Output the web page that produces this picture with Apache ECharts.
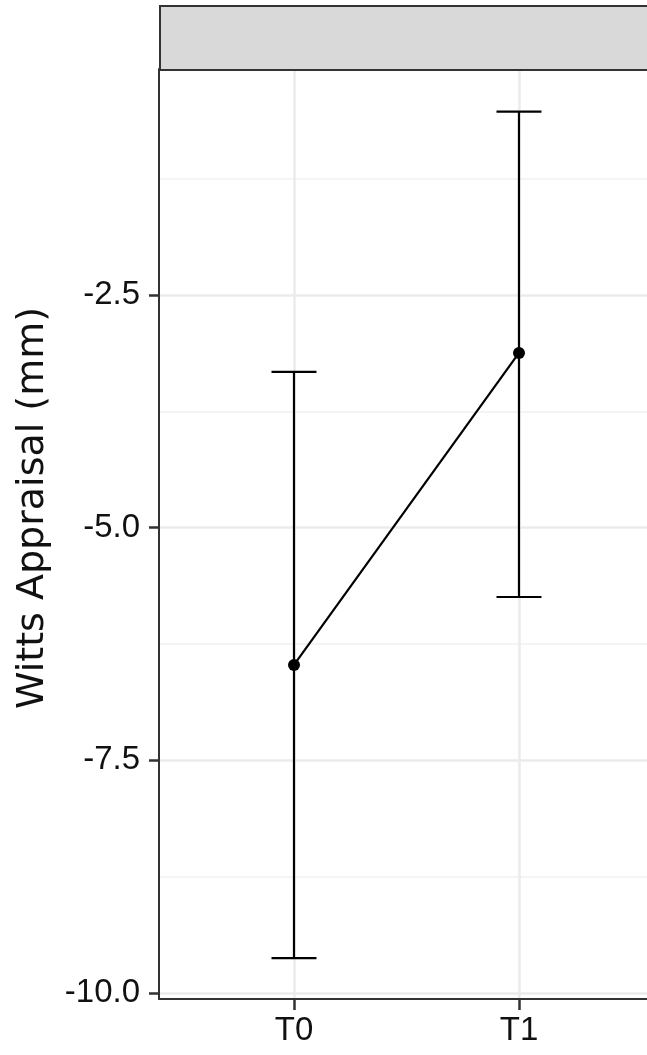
<!DOCTYPE html>
<html>
<head>
<meta charset="utf-8">
<script src="https://cdn.jsdelivr.net/npm/echarts@6/dist/echarts.min.js"></script>
<style>
html,body{margin:0;padding:0;background:#fff;}
#chart{width:647px;height:1055px;}
</style>
</head>
<body>
<div id="chart"></div>
<script>
const categories = ['T0', 'T1'];
const means = [-6.475, -3.123];
const lowerCI = [-9.624, -5.745];
const upperCI = [-3.327, -0.53];
const yTicks = [-10, -7.5, -5, -2.5];
const yMinorTicks = [-8.75, -6.25, -3.75, -1.25];
const yTitle = 'Witts Appraisal (mm)';

const xMin = -0.6, xMax = 1.569;
const yMin = -10.064, yMax = -0.072;

const pointData = categories.map((c, i) => [i, means[i]]);
const errData = categories.map((c, i) => [i, lowerCI[i], upperCI[i]]);

const chart = echarts.init(document.getElementById('chart'), null, {renderer: 'canvas'});

const option = {
  animation: false,
  backgroundColor: '#ffffff',
  grid: {left: 159, top: 69, right: 0, height: 930, containLabel: false},
  xAxis: {
    type: 'value', min: xMin, max: xMax,
    axisLine: {show: true, onZero: false, lineStyle: {color: '#333333', width: 2}},
    axisTick: {show: true, customValues: [0, 1], length: 11, lineStyle: {color: '#333333', width: 2.5}},
    axisLabel: {customValues: [0, 1], formatter: v => categories[Math.round(v)], fontSize: 33,
      fontFamily: 'Liberation Sans, Arial, sans-serif', color: '#111111', margin: 15},
    splitLine: {show: true, lineStyle: {color: '#EBEBEB', width: 2.5}}
  },
  yAxis: [{
    type: 'value', min: yMin, max: yMax,
    axisLine: {show: true, onZero: false, lineStyle: {color: '#333333', width: 2}},
    axisTick: {show: true, customValues: yTicks, length: 10, lineStyle: {color: '#333333', width: 2.5}},
    axisLabel: {customValues: yTicks, formatter: v => Number(v).toFixed(1), fontSize: 33,
      fontFamily: 'Liberation Sans, Arial, sans-serif', color: '#111111', margin: 19},
    splitLine: {show: true, lineStyle: {color: '#EBEBEB', width: 2.5}}
  }, {
    type: 'value', min: yMin, max: yMax, position: 'left',
    axisLine: {show: false},
    axisTick: {show: false, customValues: yMinorTicks},
    axisLabel: {show: false, customValues: yMinorTicks},
    splitLine: {show: true, lineStyle: {color: '#F0F0F0', width: 1.5}},
    z: 0
  }],
  graphic: [
    {type: 'rect', left: 159, top: 5, shape: {x: 0, y: 0, width: 510, height: 64},
     style: {fill: '#D9D9D9', stroke: '#333333', lineWidth: 2}, z: 10},
    {type: 'text', x: 33, y: 508, rotation: Math.PI / 2,
     style: {text: yTitle, fontSize: 38, fontFamily: 'DejaVu Sans', fill: '#111111',
       textAlign: 'center', textVerticalAlign: 'middle'}}
  ],
  series: [
    {
      type: 'custom',
      xAxisIndex: 0, yAxisIndex: 0,
      data: errData,
      renderItem: function (params, api) {
        const x = api.value(0);
        const lo = api.value(1), hi = api.value(2);
        const pLo = api.coord([x, lo]);
        const pHi = api.coord([x, hi]);
        const capL = api.coord([x - 0.1, lo])[0];
        const capR = api.coord([x + 0.1, lo])[0];
        const st = {stroke: '#000000', lineWidth: 2.2};
        return {
          type: 'group',
          children: [
            {type: 'line', shape: {x1: pLo[0], y1: pLo[1], x2: pHi[0], y2: pHi[1]}, style: st},
            {type: 'line', shape: {x1: capL, y1: pLo[1], x2: capR, y2: pLo[1]}, style: st},
            {type: 'line', shape: {x1: capL, y1: pHi[1], x2: capR, y2: pHi[1]}, style: st}
          ]
        };
      },
      z: 3
    },
    {
      type: 'line',
      xAxisIndex: 0, yAxisIndex: 0,
      data: pointData,
      symbol: 'circle', symbolSize: 12,
      lineStyle: {color: '#000000', width: 2.2},
      itemStyle: {color: '#000000'},
      z: 4
    }
  ]
};
chart.setOption(option);
</script>
</body>
</html>
